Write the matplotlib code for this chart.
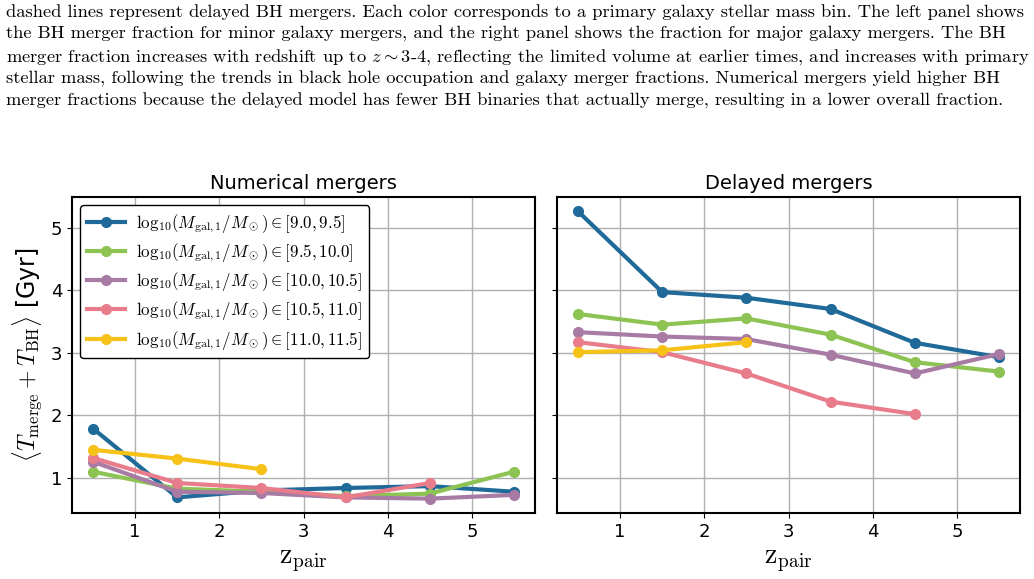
import numpy as np
import matplotlib.pyplot as plt

plt.rcParams['mathtext.fontset'] = 'cm'

# redshift bins (centres)
z_pair = np.array([0.5, 1.5, 2.5, 3.5, 4.5, 5.5])

bins = ['[9.0, 9.5]', '[9.5, 10.0]', '[10.0, 10.5]', '[10.5, 11.0]', '[11.0, 11.5]']
colors = ['#1f6a99', '#8dc352', '#a87ba5', '#e87c8b', '#f6c218']

# <T_merge + T_BH> [Gyr], numerical mergers
num_09 = [1.79, 0.69, 0.80, 0.84, 0.87, 0.78]
num_95 = [1.10, 0.83, 0.78, 0.71, 0.75, 1.10]
num_10 = [1.26, 0.78, 0.76, 0.69, 0.67, 0.73]
num_105 = [1.32, 0.92, 0.84, 0.69, 0.92]
num_11 = [1.45, 1.31, 1.14]

# delayed mergers
del_09 = [5.26, 3.97, 3.88, 3.70, 3.16, 2.93]
del_95 = [3.62, 3.45, 3.55, 3.29, 2.85, 2.70]
del_10 = [3.33, 3.26, 3.22, 2.97, 2.67, 2.98]
del_105 = [3.17, 3.01, 2.67, 2.22, 2.02]
del_11 = [3.01, 3.04, 3.17]

numerical = [num_09, num_95, num_10, num_105, num_11]
delayed = [del_09, del_95, del_10, del_105, del_11]

caption = [
    "dashed lines represent delayed BH mergers. Each color corresponds to a primary galaxy stellar mass bin. The left panel shows",
    "the BH merger fraction for minor galaxy mergers, and the right panel shows the fraction for major galaxy mergers. The BH",
    r"merger fraction increases with redshift up to $z\sim$3-4, reflecting the limited volume at earlier times, and increases with primary",
    "stellar mass, following the trends in black hole occupation and galaxy merger fractions. Numerical mergers yield higher BH",
    "merger fractions because the delayed model has fewer BH binaries that actually merge, resulting in a lower overall fraction.",
]

fig = plt.figure(figsize=(10.34, 5.79), dpi=100)
ax1 = fig.add_axes([72/1034, 66/579, 463/1034, 316/579])
ax2 = fig.add_axes([557/1034, 66/579, 463/1034, 316/579], sharey=ax1)

for i, line in enumerate(caption):
    fig.text(6/1034, 1 - (12 + 22.3*i)/579, line, fontsize=13.3, family='cmr10',
             va='center', ha='left')

for ax, data, title in [(ax1, numerical, 'Numerical mergers'), (ax2, delayed, 'Delayed mergers')]:
    for vals, c, b in zip(data, colors, bins):
        ax.plot(z_pair[:len(vals)], vals, '-o', color=c, lw=3, ms=7,
                label=r'$\mathrm{log}_{10}(M_{\rm gal,1}/M_\odot) \in ' + b + '$')
    ax.set_title(title, fontsize=14)
    ax.set_xlabel(r'$\mathrm{z_{pair}}$', fontsize=20)
    ax.grid(True, color='#b0b0b0', lw=1)
    ax.tick_params(labelsize=13)
    for s in ax.spines.values():
        s.set_linewidth(1.5)

ax1.set_ylabel(r'$\langle T_{\rm merge} + T_{\rm BH}\rangle$ [Gyr]', fontsize=17)
ax1.set_xticks([1, 2, 3, 4, 5])
ax2.set_xticks([1, 2, 3, 4, 5])
ax2.tick_params(labelleft=False)

leg = ax1.legend(loc='upper left', fontsize=12.2, edgecolor='black', framealpha=1,
                 handlelength=2.2, handletextpad=0.7, labelspacing=0.4)
leg.get_frame().set_linewidth(1.0)

fig.savefig('out.png', dpi=100)
